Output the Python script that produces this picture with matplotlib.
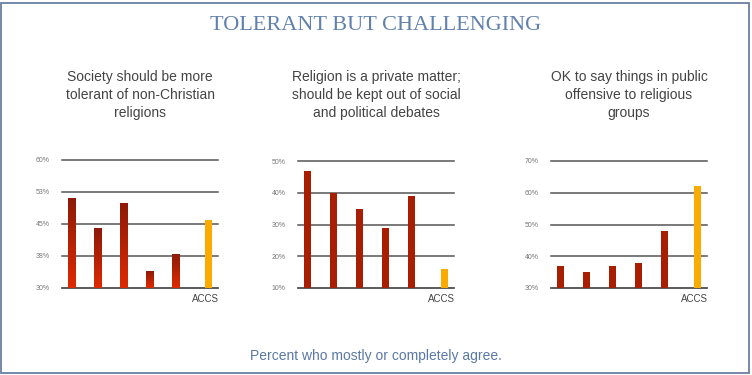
import numpy as np
import matplotlib
matplotlib.use('Agg')
from matplotlib import pyplot as plt
from matplotlib.patches import Rectangle
from matplotlib.colors import LinearSegmentedColormap

# data
categories = ['', '', '', '', '', 'ACCS']

titles = [
    'Society should be more\ntolerant of non-Christian\nreligions',
    'Religion is a private matter;\nshould be kept out of social\nand political debates',
    'OK to say things in public\noffensive to religious\ngroups',
]
tolerant = [51, 44, 50, 34, 38]
private_matter = [47, 40, 35, 29, 39]
offensive_ok = [37, 35, 37, 38, 48]
accs = [46, 16, 62]

ylims = [(30, 60), (10, 50), (30, 70)]
yticks = [
    [30, 37.5, 45, 52.5, 60],
    [10, 20, 30, 40, 50],
    [30, 40, 50, 60, 70],
]
ytick_labels = [
    ['30%', '38%', '45%', '53%', '60%'],
    ['10%', '20%', '30%', '40%', '50%'],
    ['30%', '40%', '50%', '60%', '70%'],
]

RED = '#a81e00'
ORANGE = '#fbaa00'
GRID = '#555555'
BLUE = '#5a78a6'

fig = plt.figure(figsize=(7.52, 3.75), dpi=100)
W, H = 752, 375

# light border around the figure
fig.patches.append(Rectangle((1.5 / W, 2.5 / H), 747.5 / W, 370 / H, transform=fig.transFigure,
                             fill=False, edgecolor='#6a7fa3', linewidth=1.3))

fig.text(0.5, 1 - 25 / H, 'TOLERANT BUT CHALLENGING', ha='center', va='center',
         fontsize=16, color='#6080ad', family='Liberation Serif')

lefts = [62, 298, 551]
tops = [160, 161, 161]
series = [tolerant, private_matter, offensive_ok]
bw = 0.27

grad = np.linspace(0, 1, 256).reshape(-1, 1)
cmap = LinearSegmentedColormap.from_list('redgrad', ['#de2a00', '#8c1a08'])

for i in range(3):
    ax = fig.add_axes([lefts[i] / W, (H - 288) / H, 156 / W, (288 - tops[i]) / H])
    x = np.arange(len(categories))
    vals = series[i]
    lo, hi = ylims[i]
    bars = ax.bar(x[:5] - bw / 2, np.array(vals) - lo, bw, bottom=lo, color=RED, zorder=3)
    ax.bar(x[5] + bw / 2, accs[i] - lo, bw, bottom=lo, color=ORANGE, zorder=3)
    if i == 0:
        # first panel uses a vertical gradient fill
        for b in bars:
            b.set_facecolor('none')
            bx, by = b.get_x(), b.get_y()
            im = ax.imshow(grad, cmap=cmap, aspect='auto', origin='lower',
                           extent=[bx, bx + b.get_width(), by, by + b.get_height()], zorder=3)
            im.set_clip_path(b)
    ax.set_xlim(-0.5, 5.5)
    ax.set_ylim(lo, hi)
    ax.set_yticks(yticks[i])
    ax.set_yticklabels(ytick_labels[i])
    ax.set_xticks(x)
    ax.set_xticklabels(categories)
    ax.yaxis.grid(True, color=GRID, linewidth=1.1, zorder=1)
    for gl in ax.get_ygridlines():
        gl.set_clip_on(False)
    ax.set_axisbelow(True)
    for s in ['top', 'right', 'left']:
        ax.spines[s].set_visible(False)
    ax.spines['bottom'].set_color(GRID)
    ax.spines['bottom'].set_linewidth(1.1)
    ax.tick_params(axis='y', length=0, pad=9, labelsize=5, labelcolor='#777777')
    ax.tick_params(axis='x', length=0, pad=4, labelsize=7, labelcolor='#444444')
    for t in ax.get_yticklabels():
        t.set_family('Liberation Sans')
    for t in ax.get_xticklabels():
        t.set_family('Liberation Sans')

    cx = (lefts[i] + 78) / W
    fig.text(cx, 1 - 95 / H, titles[i], ha='center', va='center', fontsize=10,
             color='#444444', family='Liberation Sans', linespacing=1.33)

fig.text(0.5, 1 - 356 / H, 'Percent who mostly or completely agree.', ha='center', va='center',
         fontsize=10, color=BLUE, family='Liberation Sans')

fig.savefig('out.png', dpi=100)
